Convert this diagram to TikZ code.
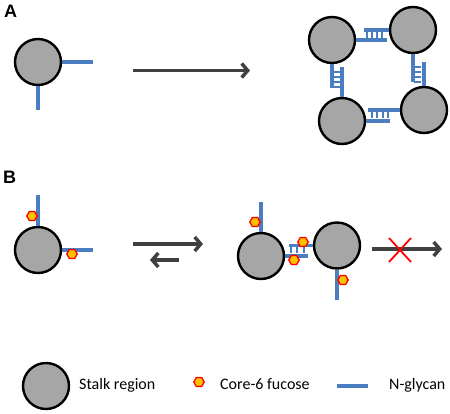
\documentclass[tikz,border=0pt]{standalone}
\usepackage{fontspec}
\setmainfont{Carlito}
\newfontfamily\arialfont{Liberation Sans}
\usetikzlibrary{arrows.meta,shapes.geometric}
\definecolor{glyc}{RGB}{74,126,193}
\definecolor{stalkgray}{RGB}{166,166,166}
\definecolor{arrowgray}{RGB}{64,64,64}
\definecolor{fucfill}{RGB}{255,192,0}
\begin{document}
\begin{tikzpicture}[x=1pt,y=-1pt,
  stalk/.style={circle,draw=black,fill=stalkgray,line width=2.4pt,minimum size=46pt,inner sep=0pt},
  glycan/.style={draw=glyc,line width=3.2pt},
  rung/.style={draw=glyc,line width=1.2pt},
  fuc/.style={regular polygon,regular polygon sides=6,draw=red,fill=fucfill,line width=1.3pt,minimum size=10.5pt,inner sep=0pt},
  bigarrow/.style={draw=arrowgray,line width=3.5pt,-{Straight Barb[length=6pt,width=14pt]}},
  lbl/.style={font=\arialfont\bfseries\fontsize{18}{18}\selectfont,anchor=base west,inner sep=0pt},
  legend/.style={font=\fontsize{16}{18}\selectfont,anchor=base west,inner sep=0pt}
]
\useasboundingbox (0,0) rectangle (450,413);

% ---------- Panel A ----------
\node[lbl] (labA) at (4,17.5) {A};
\node[stalk] (a1) at (38,62) {};
\coordinate (a1r) at (93,62);
\coordinate (a1d) at (38,110);
\draw[glycan] (a1.east) -- (a1r);
\draw[glycan] (a1.south) -- (a1d);

\coordinate (arA1) at (133,70.5);
\coordinate (arA2) at (250,70.5);
\draw[bigarrow] (arA1) -- (arA2);

% complex
\node[stalk] (c1) at (332,40) {};
\node[stalk] (c2) at (413,30) {};
\node[stalk] (c3) at (424,110) {};
\node[stalk] (c4) at (342,121) {};

% top pair
\coordinate (t1) at (364,30);
\coordinate (t2) at (387,40);
\draw[glycan] (c2.west) -- (t1);
\draw[glycan] (c1.east) -- (t2);
\foreach \x in {367,372,377,382} \draw[rung] (\x,31) -- (\x,38);

% left pair
\coordinate (l1) at (332,88);
\coordinate (l2) at (342,67);
\draw[glycan] (c1.south) -- (l1);
\draw[glycan] (c4.north) -- (l2);
\foreach \y in {72,77,82,87} \draw[rung] (333,\y) -- (340,\y);

% right pair
\coordinate (r1) at (413,82);
\coordinate (r2) at (424,62);
\draw[glycan] (c2.south) -- (r1);
\draw[glycan] (c3.north) -- (r2);
\foreach \y in {67,72,77,82} \draw[rung] (414,\y) -- (421,\y);

% bottom pair
\coordinate (u1) at (368,110);
\coordinate (u2) at (390,121);
\draw[glycan] (c3.west) -- (u1);
\draw[glycan] (c4.east) -- (u2);
\foreach \x in {372,377,383,388} \draw[rung] (\x,111) -- (\x,118);

% ---------- Panel B ----------
\node[lbl] (labB) at (3,183) {B};
\node[stalk] (b1) at (38,250) {};
\coordinate (b1u) at (38,195);
\coordinate (b1r) at (93,250);
\draw[glycan] (b1.north) -- (b1u);
\draw[glycan] (b1.east) -- (b1r);
\node[fuc] (f1) at (32,216) {};
\node[fuc] (f2) at (72,254) {};

\coordinate (arB1) at (133,244);
\coordinate (arB2) at (203,244);
\coordinate (arB3) at (179,260);
\coordinate (arB4) at (150,260);
\draw[bigarrow] (arB1) -- (arB2);
\draw[bigarrow] (arB3) -- (arB4);

\node[stalk] (b2) at (261,256) {};
\node[stalk] (b3) at (337,245.5) {};
\coordinate (b2u) at (261,202);
\coordinate (b3d) at (337,300);
\draw[glycan] (b2.north) -- (b2u);
\draw[glycan] (b3.south) -- (b3d);
\coordinate (m1) at (289,245.5);
\coordinate (m2) at (308,256);
\draw[glycan] (b3.west) -- (m1);
\draw[glycan] (b2.east) -- (m2);
\foreach \x in {291,297,304} \draw[rung] (\x,246) -- (\x,253);
\node[fuc] (f3) at (255,222) {};
\node[fuc] (f4) at (343,280) {};
\node[fuc] (f5) at (303,242) {};
\node[fuc] (f6) at (294,260) {};

\coordinate (arC1) at (372,249);
\coordinate (arC2) at (442,249);
\draw[bigarrow] (arC1) -- (arC2);
\coordinate (x1) at (389,238);
\coordinate (x2) at (411,262);
\coordinate (x3) at (389,262);
\coordinate (x4) at (411,238);
\draw[red,line width=1.8pt] (x1) -- (x2);
\draw[red,line width=1.8pt] (x3) -- (x4);

% ---------- Legend ----------
\node[stalk] (lg1) at (46,386) {};
\node[legend] (lt1) at (79,389.5) {Stalk region};
\node[fuc] (lg2) at (199,382) {};
\node[legend] (lt2) at (220,389.5) {Core-6 fucose};
\coordinate (lg3a) at (337,386);
\coordinate (lg3b) at (368,386);
\draw[glycan] (lg3a) -- (lg3b);
\node[legend] (lt3) at (389,389.5) {N-glycan};
\end{tikzpicture}
\end{document}
